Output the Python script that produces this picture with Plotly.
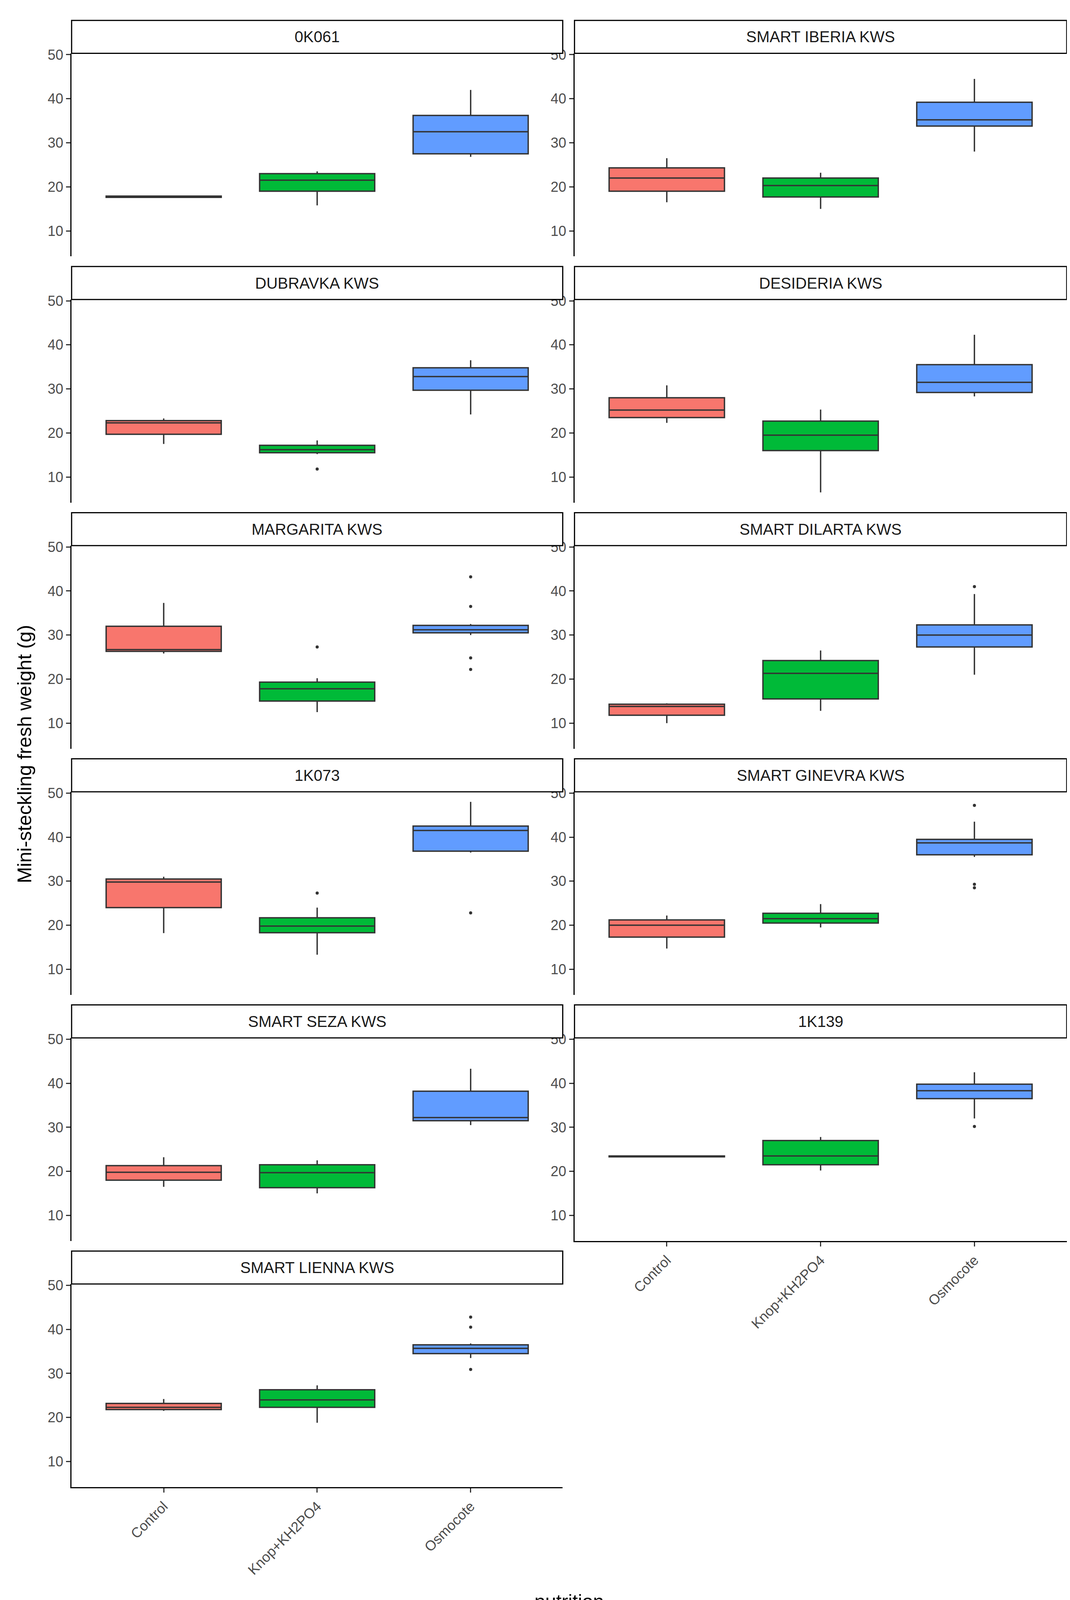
import plotly.graph_objects as go

W, H = 2739, 4273
S = 2.739

panels = ["0K061", "SMART IBERIA KWS", "DUBRAVKA KWS", "DESIDERIA KWS", "MARGARITA KWS",
          "SMART DILARTA KWS", "1K073", "SMART GINEVRA KWS", "SMART SEZA KWS", "1K139",
          "SMART LIENNA KWS"]
nutrition = ["Control", "Knop+KH2PO4", "Osmocote"]
colors = ["#F8766D", "#00BA38", "#619CFF"]

# per panel, per nutrition: (lowerfence, q1, median, q3, upperfence)
stats = {
    "0K061": [(17.5, 17.6, 17.7, 17.9, 17.9), (15.8, 19, 21.5, 23, 23.5), (26.8, 27.5, 32.5, 36.2, 42)],
    "SMART IBERIA KWS": [(16.5, 19, 22, 24.3, 26.5), (15, 17.7, 20.3, 22, 23.2), (28, 33.8, 35.2, 39.2, 44.5)],
    "DUBRAVKA KWS": [(17.5, 19.7, 22.3, 22.8, 23.3), (15.2, 15.5, 16.2, 17.2, 18.3), (24.2, 29.7, 32.8, 34.8, 36.5)],
    "DESIDERIA KWS": [(22.3, 23.5, 25.2, 28, 30.8), (6.5, 16, 19.5, 22.7, 25.3), (28.3, 29.2, 31.5, 35.5, 42.3)],
    "MARGARITA KWS": [(25.8, 26.3, 26.7, 32, 37.3), (12.5, 15, 17.8, 19.3, 20.2), (30, 30.5, 31.2, 32.2, 32.5)],
    "SMART DILARTA KWS": [(10, 11.8, 13.8, 14.3, 14.5), (12.8, 15.5, 21.3, 24.2, 26.5), (21, 27.3, 30, 32.3, 39.3)],
    "1K073": [(18.2, 24, 29.8, 30.5, 31), (13.3, 18.3, 19.8, 21.7, 24), (36.5, 36.8, 41.5, 42.5, 48)],
    "SMART GINEVRA KWS": [(14.7, 17.3, 20, 21.2, 22.2), (19.5, 20.5, 21.5, 22.7, 24.8), (35.5, 36, 38.7, 39.5, 43.5)],
    "SMART SEZA KWS": [(16.5, 18, 19.8, 21.3, 23.2), (15, 16.3, 19.7, 21.5, 22.5), (30.5, 31.5, 32.2, 38.2, 43.3)],
    "1K139": [(23.3, 23.3, 23.4, 23.5, 23.5), (20.2, 21.5, 23.5, 27, 27.8), (32, 36.5, 38.3, 39.8, 42.5)],
    "SMART LIENNA KWS": [(21.5, 21.8, 22.3, 23.2, 24.2), (18.8, 22.3, 24, 26.3, 27.3), (33.5, 34.5, 35.7, 36.5, 36.8)],
}
outliers = {
    "DUBRAVKA KWS": [[], [11.8], []],
    "MARGARITA KWS": [[], [27.3], [43.2, 36.5, 24.8, 22.2]],
    "SMART DILARTA KWS": [[], [], [41]],
    "1K073": [[], [27.3], [22.8]],
    "SMART GINEVRA KWS": [[], [], [47.2, 29.3, 28.5]],
    "1K139": [[], [], [30.2]],
    "SMART LIENNA KWS": [[], [], [42.8, 40.5, 30.9]],
}

UH = 1560.0
colx = [(64, 523), (534, 994)]
bottom_panels = {"SMART LIENNA KWS", "1K139"}
FONT = "Liberation Sans, Arial"

fig = go.Figure()
layout = {}
shapes, annotations = [], []
for i, name in enumerate(panels):
    r, c = divmod(i, 2)
    k = i + 1
    xa, ya = f"xaxis{k}", f"yaxis{k}"
    xr, yr = f"x{k}", f"y{k}"
    st_top = 10 + 231.5 * r
    st_bot = 41 + 231.5 * r
    p_bot = 232 + 231.5 * r
    x0, x1 = colx[c][0] / 1000, colx[c][1] / 1000
    is_bot = name in bottom_panels
    layout[xa] = dict(domain=[x0, x1], anchor=yr, type="category", categoryorder="array",
                      categoryarray=nutrition, range=[-0.6, 2.6], showgrid=False, zeroline=False,
                      showline=is_bot, linecolor="black", linewidth=3,
                      ticks="outside" if is_bot else "", ticklen=11, tickwidth=3, tickcolor="#333",
                      showticklabels=is_bot, tickangle=-45,
                      tickfont=dict(family=FONT, size=36, color="#4d4d4d"))
    layout[ya] = dict(domain=[1 - p_bot / UH, 1 - st_bot / UH], anchor=xr, range=[4.2, 50.3],
                      tickvals=[10, 20, 30, 40, 50], showgrid=False, zeroline=False,
                      showline=True, linecolor="black", linewidth=3, ticks="outside",
                      ticklen=11, tickwidth=3, tickcolor="#333",
                      tickfont=dict(family=FONT, size=36, color="#4d4d4d"))
    shapes.append(dict(type="rect", xref="paper", yref="paper", x0=x0, x1=x1,
                       y0=1 - st_bot / UH, y1=1 - st_top / UH,
                       line=dict(color="black", width=3), fillcolor="white"))
    annotations.append(dict(text=name, xref="paper", yref="paper", x=(x0 + x1) / 2,
                            y=1 - (st_top + st_bot) / 2 / UH, xanchor="center", yanchor="middle",
                            showarrow=False, font=dict(family=FONT, size=40, color="#1a1a1a")))
    for j, nut in enumerate(nutrition):
        lo, q1, med, q3, hi = stats[name][j]
        fig.add_trace(go.Box(x=[nut], lowerfence=[lo], q1=[q1], median=[med], q3=[q3],
                             upperfence=[hi], name=nut, legendgroup=nut, showlegend=(i == 0),
                             fillcolor=colors[j], line=dict(color="#333333", width=3.5),
                             whiskerwidth=0, width=0.75, boxpoints=False, xaxis=xr, yaxis=yr))
        pts = outliers.get(name, [[], [], []])[j]
        if pts:
            fig.add_trace(go.Scatter(x=[nut] * len(pts), y=pts, mode="markers",
                                     marker=dict(color="#333333", size=8), showlegend=False,
                                     hoverinfo="y", xaxis=xr, yaxis=yr))

annotations.append(dict(text="nutrition", xref="paper", yref="paper", x=0.529, y=1 - 1497 / UH,
                        xanchor="center", yanchor="middle", showarrow=False,
                        font=dict(family=FONT, size=50, color="black")))
annotations.append(dict(text="Mini-steckling fresh weight (g)", xref="paper", yref="paper",
                        x=0.02, y=1 - 700 / UH, xanchor="center", yanchor="middle",
                        textangle=-90, showarrow=False,
                        font=dict(family=FONT, size=50, color="black")))

fig.update_layout(width=W, height=H, margin=dict(l=0, r=0, t=0, b=0),
                  plot_bgcolor="white", paper_bgcolor="white", boxmode="overlay",
                  shapes=shapes, annotations=annotations,
                  legend=dict(orientation="h", x=0.53, xanchor="center", y=1 - 1550 / UH,
                              yanchor="middle", title=dict(text="nutrition", side="left"),
                              font=dict(family=FONT, size=42, color="black")),
                  **layout)

fig.write_html("out.html")
